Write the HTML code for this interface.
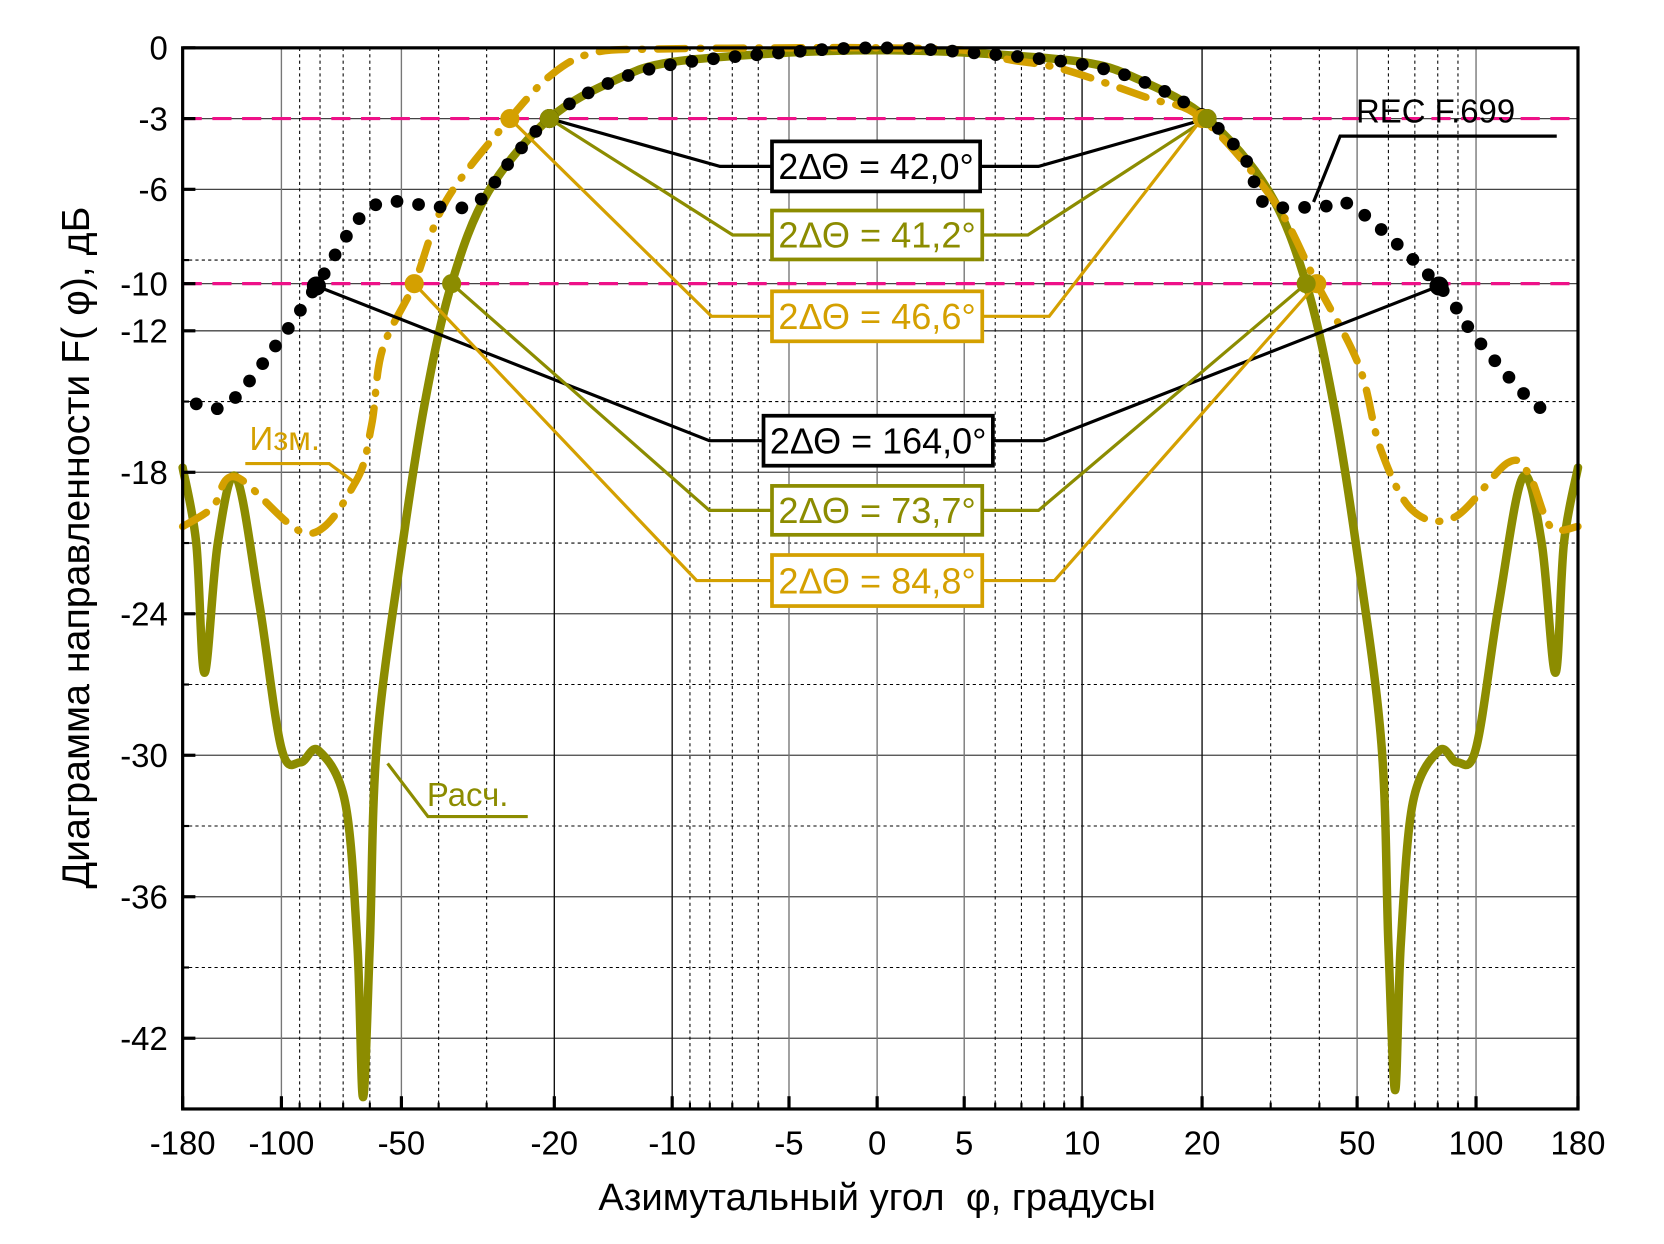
<!DOCTYPE html>
<html><head><meta charset="utf-8"><style>
html,body{margin:0;padding:0;background:#fff;}
svg{display:block;}
text{font-family:"Liberation Sans",sans-serif;}
</style></head><body>
<svg id="chart" width="1664" height="1244" viewBox="0 0 1567 1170" preserveAspectRatio="none" xmlns="http://www.w3.org/2000/svg">
<g id="grid"></g>
<g id="series"></g>
<g id="annot"></g>
<g id="axes"></g>
</svg>
<script>
// ---- data ----
const xTicks = [-180,-100,-50,-20,-10,-5,0,5,10,20,50,100,180];
const xMinor = [-90,-80,-70,-60,-40,-30,-9,-8,-7,-6,6,7,8,9,30,40,60,70,80,90];
const yTicks = [0,-3,-6,-10,-12,-18,-24,-30,-36,-42];
const yMinor = [-9,-15,-21,-27,-33,-39];
const calcAngles = [-180,-166,-158,-146,-131,-114,-100,-89.6,-80.7,-69.2,-64.5,-62.4,-60,-57.6,-50,-43.5,-37,-29.7,-20.6,-13.9,-10,-5,0,5,10,13.9,20.6,29.7,37,43.5,50,57.6,60,62.4,64.5,69.2,80.7,89.6,100,114,131,146,158,166,180];
const calcValues = [-17.8,-21,-26.5,-21,-18.2,-23.6,-29.7,-30.3,-29.8,-32,-38,-44.5,-38,-29.5,-21.4,-15.1,-10,-6.1,-3,-1.35,-0.6,-0.2,-0.1,-0.2,-0.6,-1.35,-3,-6.1,-10,-15.1,-21.4,-29.5,-38,-44.2,-38,-32,-29.8,-30.3,-29.7,-23.6,-18.2,-21,-26.5,-21,-17.8];
const measAngles = [-180,-150.8,-131,-85.8,-65.1,-59.4,-55.8,-46.3,-38.3,-26.1,-20.2,-15.8,-10.8,-5,0,5,6.5,8.9,14.5,20,30.6,39.4,50.6,57.3,68.9,88.3,120,135.8,153.6,180];
const measValues = [-20.3,-19.5,-18.2,-20.6,-18.4,-16,-12.8,-10,-6.5,-3,-1.1,-0.2,-0.05,0,0,-0.1,-0.5,-0.9,-2.1,-3,-6.5,-10,-13.5,-17,-19.6,-19.9,-17.6,-18.1,-20.3,-20.3];
const recAngles = [-166,-137,-100,-81.7,-59.4,-40,-32,-26,-20.6,-15,-10,-5,0,5,10,15,20.6,26,29,40,49,80.6,100,140,158];
const recValues = [-15.1,-15.1,-12.3,-10.1,-6.75,-6.75,-6.6,-4.8,-3,-1.6,-0.7,-0.18,0,-0.18,-0.7,-1.6,-3,-4.8,-6.6,-6.75,-6.75,-10.1,-12.3,-15.1,-15.1];
const markRecA = [-81.7,-20.6,20.6,80.6], markRecV = [-10.1,-3,-3,-10.1];
const markCalcA = [-20.6,-37,20.6,37], markCalcV = [-3,-10,-3,-10];
const markMeasA = [-26.1,-46.3,20,39.4], markMeasV = [-3,-10,-3,-10];

// ---- scales ----
const PL=172, PR=1486, PT=45, PB=1043, YMIN=-45;
const tickPx = [172,265,378,522,633,743,826,908,1019,1132,1278,1390,1486];
function X(a){
  for(let i=0;i<xTicks.length-1;i++){
    const a0=xTicks[i], a1=xTicks[i+1];
    if(a>=a0 && a<=a1){
      let t;
      if(a0*a1>0){ t=(Math.log(Math.abs(a))-Math.log(Math.abs(a0)))/(Math.log(Math.abs(a1))-Math.log(Math.abs(a0))); }
      else t=(a-a0)/(a1-a0);
      return tickPx[i]+t*(tickPx[i+1]-tickPx[i]);
    }
  }
  return a<0?PL:PR;
}
function Y(v){ return PT+(v/YMIN)*(PB-PT); }

const NS="http://www.w3.org/2000/svg";
function mk(tag,attrs,parent){const e=document.createElementNS(NS,tag);for(const k in attrs)e.setAttribute(k,attrs[k]);parent.appendChild(e);return e;}
const G=document.getElementById('grid'), S=document.getElementById('series'), A=document.getElementById('annot'), AX=document.getElementById('axes');

yMinor.forEach(v=>{const l=mk('line',{x1:PL,x2:PR,y1:Y(v),y2:Y(v),stroke:'#000','stroke-width':1,'stroke-dasharray':'3 3'},G);

});
yTicks.forEach(v=>{if(v===0)return;const l=mk('line',{x1:PL,x2:PR,y1:Y(v),y2:Y(v),stroke:'#444','stroke-width':1.2},G);

});
xMinor.forEach(a=>{const l=mk('line',{x1:X(a),x2:X(a),y1:PT,y2:PB,stroke:'#000','stroke-width':1,'stroke-dasharray':'3 3'},G);

});
xTicks.forEach(a=>{if(Math.abs(a)===180)return;const gray=[-100,-50,-5,0,5,50,100].includes(a);const l=mk('line',{x1:X(a),x2:X(a),y1:PT,y2:PB,stroke:gray?'#777':'#111','stroke-width':1.3},G);

});
[-3,-10].forEach(v=>{const l=mk('line',{x1:PL,x2:PR,y1:Y(v),y2:Y(v),stroke:'#ee1188','stroke-width':3,'stroke-dasharray':'18 10'},G);

});

function pts(as,vs){return as.map((a,i)=>[X(a),Y(vs[i])]);}
function crPath(p){let d='M'+p[0][0]+','+p[0][1];for(let i=0;i<p.length-1;i++){const p0=p[i-1]||p[i],p1=p[i],p2=p[i+1],p3=p[i+2]||p2;
const c1=[p1[0]+(p2[0]-p0[0])/6,p1[1]+(p2[1]-p0[1])/6],c2=[p2[0]-(p3[0]-p1[0])/6,p2[1]-(p3[1]-p1[1])/6];
d+=' C'+c1[0]+','+c1[1]+' '+c2[0]+','+c2[1]+' '+p2[0]+','+p2[1];}return d;}

const OL='#8c8c00', GD='#d4a000';
const calc=mk('path',{d:crPath(pts(calcAngles,calcValues)),fill:'none',stroke:OL,'stroke-width':8,'stroke-linejoin':'round','stroke-linecap':'round'},S);


const meas=mk('path',{d:crPath(pts(measAngles,measValues)),fill:'none',stroke:GD,'stroke-width':7,'stroke-dasharray':'26 14 1 14','stroke-linecap':'round'},S);


const recP=mk('path',{d:crPath(pts(recAngles,recValues)),fill:'none',stroke:'none'},S);


const L=recP.getTotalLength();
for(let s=0;s<=L;s+=20.5){const q=recP.getPointAtLength(s);const c=mk('circle',{cx:q.x,cy:q.y,r:6,fill:'#000'},S);

}

function leader(points,color,w){const l=mk('polyline',{points:points.map(p=>p.join(',')).join(' '),fill:'none',stroke:color,'stroke-width':w||3},A);

}
const boxes=[
 {t:'2ΔΘ = 42,0°',c:'#000',x:727,y:133,w:196,h:47,la:markRecA[1],lv:markRecV[1],ra:markRecA[2],rv:markRecV[2],lk:678,rk:978},
 {t:'2ΔΘ = 41,2°',c:OL,x:727,y:198,w:198,h:46,la:markCalcA[0],lv:markCalcV[0],ra:markCalcA[2],rv:markCalcV[2],lk:690,rk:968},
 {t:'2ΔΘ = 46,6°',c:GD,x:727,y:274,w:198,h:47,la:markMeasA[0],lv:markMeasV[0],ra:markMeasA[2],rv:markMeasV[2],lk:670,rk:988},
 {t:'2ΔΘ = 164,0°',c:'#000',x:719,y:391,w:216,h:47,la:markRecA[0],lv:markRecV[0],ra:markRecA[3],rv:markRecV[3],lk:668,rk:983},
 {t:'2ΔΘ = 73,7°',c:OL,x:727,y:457,w:198,h:46,la:markCalcA[1],lv:markCalcV[1],ra:markCalcA[3],rv:markCalcV[3],lk:668,rk:978},
 {t:'2ΔΘ = 84,8°',c:GD,x:727,y:522,w:198,h:48,la:markMeasA[1],lv:markMeasV[1],ra:markMeasA[3],rv:markMeasV[3],lk:656,rk:993}];
boxes.forEach(b=>{const my=b.y+b.h/2;
 leader([[X(b.la),Y(b.lv)],[b.lk,my],[b.x,my]],b.c);
 leader([[b.x+b.w,my],[b.rk,my],[X(b.ra),Y(b.rv)]],b.c);});
function marks(as,vs,col,name){as.forEach((a,i)=>{const c=mk('circle',{cx:X(a),cy:Y(vs[i]),r:9,fill:col},A);

});}
marks(markRecA,markRecV,'#000','rec-marker');
marks(markMeasA,markMeasV,GD,'measured-marker');
marks(markCalcA,markCalcV,OL,'calculated-marker');
boxes.forEach(b=>{const r=mk('rect',{x:b.x,y:b.y,width:b.w,height:b.h,fill:'#fff',stroke:b.c,'stroke-width':3.5},A);


const t=mk('text',{x:b.x+b.w/2,y:b.y+b.h/2+12,'text-anchor':'middle','font-size':34,'textLength':b.w-12,'lengthAdjust':'spacingAndGlyphs',fill:b.c},A);t.textContent=b.t;

});

const fr=mk('rect',{x:PL,y:PT,width:PR-PL,height:PB-PT,fill:'none',stroke:'#000','stroke-width':3},AX);


yTicks.forEach(v=>{const l=mk('line',{x1:PL,x2:PL+12,y1:Y(v),y2:Y(v),stroke:'#000','stroke-width':3},AX);


const t=mk('text',{x:158,y:Y(v)+11,'text-anchor':'end','font-size':31,fill:'#000'},AX);t.textContent=String(v);

});
yMinor.forEach(v=>{const l=mk('line',{x1:PL,x2:PL+6,y1:Y(v),y2:Y(v),stroke:'#000','stroke-width':2},AX);

});
xTicks.forEach(a=>{const l=mk('line',{x1:X(a),x2:X(a),y1:PB,y2:PB-12,stroke:'#000','stroke-width':3},AX);


const t=mk('text',{x:X(a),y:1086,'text-anchor':'middle','font-size':31,fill:'#000'},AX);t.textContent=String(a);

});
xMinor.forEach(a=>{const l=mk('line',{x1:X(a),x2:X(a),y1:PB,y2:PB-6,stroke:'#000','stroke-width':2},AX);

});
</script>
<svg style="position:absolute;left:0;top:0" width="1664" height="1244" viewBox="0 0 1567 1170" preserveAspectRatio="none" xmlns="http://www.w3.org/2000/svg">
<text x="826" y="1138" text-anchor="middle" font-size="36" font-family="Liberation Sans, sans-serif" xml:space="preserve">Азимутальный угол  φ, градусы</text>
<text transform="translate(84,515) rotate(-90)" text-anchor="middle" font-size="37" font-family="Liberation Sans, sans-serif" xml:space="preserve">Диаграмма направленности F( φ), дБ</text>
<text x="1277" y="115" font-size="31" font-family="Liberation Sans, sans-serif">REC F.699</text>
<polyline points="1237,190 1262,128 1466,128" fill="none" stroke="#000" stroke-width="3"/>
<text x="235" y="423" font-size="31" fill="#d4a000" font-family="Liberation Sans, sans-serif">Изм.</text>
<polyline points="231,436 310,436 337,456" fill="none" stroke="#d4a000" stroke-width="3"/>
<text x="402" y="758" font-size="31" fill="#8c8c00" font-family="Liberation Sans, sans-serif">Расч.</text>
<polyline points="365,718 403,768 497,768" fill="none" stroke="#8c8c00" stroke-width="3"/>
</svg>
</body></html>
